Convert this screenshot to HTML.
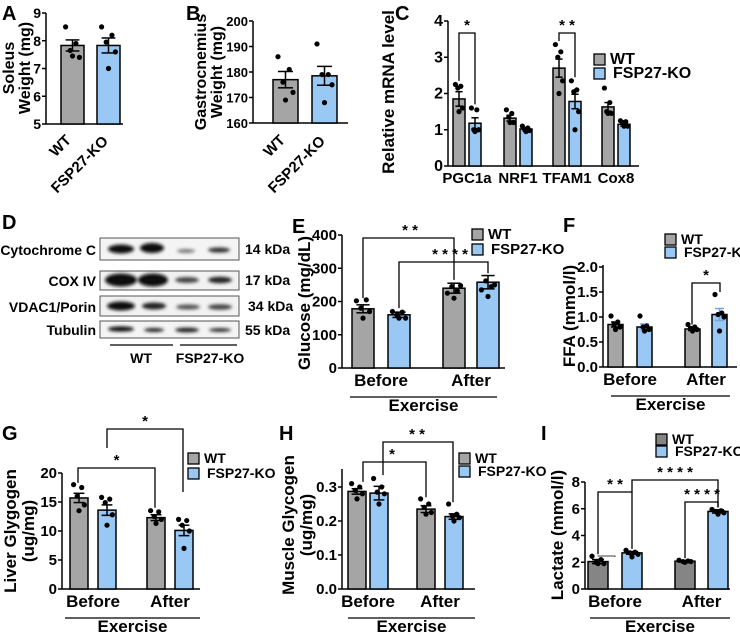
<!DOCTYPE html>
<html><head><meta charset="utf-8">
<style>
html,body{margin:0;padding:0;background:#fff;}
svg{display:block;font-family:"Liberation Sans",Arial,sans-serif;font-weight:bold;}
</style></head>
<body>
<svg id="fig" width="740" height="633" viewBox="0 0 740 633" xmlns="http://www.w3.org/2000/svg">
<defs><filter id="blur" x="-50%" y="-50%" width="200%" height="200%"><feGaussianBlur stdDeviation="1.6"/></filter></defs>
<g font-size="14">
<text x="2" y="229" font-size="20">D</text>
<text x="96" y="255" text-anchor="end">Cytochrome C</text>
<text x="96" y="286" text-anchor="end">COX IV</text>
<text x="96" y="312" text-anchor="end">VDAC1/Porin</text>
<text x="96" y="335" text-anchor="end">Tubulin</text>
<rect x="100" y="238" width="139" height="22" fill="#f4f4f4" stroke="#555"/>
<rect x="100" y="271" width="139" height="19" fill="#f2f2f2" stroke="#555"/>
<rect x="100" y="296" width="139" height="20" fill="#f2f2f2" stroke="#555"/>
<rect x="100" y="321" width="139" height="17" fill="#f4f4f4" stroke="#555"/>
<g filter="url(#blur)" fill="#111">
<ellipse cx="121" cy="249" rx="13" ry="4.5"/><ellipse cx="152" cy="248" rx="12" ry="5"/><ellipse cx="186" cy="251" rx="9" ry="2" fill="#777"/><ellipse cx="219" cy="250" rx="11" ry="2.6" fill="#333"/>
<ellipse cx="121" cy="280" rx="16" ry="6.5"/><ellipse cx="153" cy="280" rx="15" ry="6.5"/><ellipse cx="187" cy="280" rx="12" ry="3" fill="#444"/><ellipse cx="220" cy="280" rx="12" ry="3.2" fill="#222"/>
<ellipse cx="121" cy="306" rx="14" ry="4.5"/><ellipse cx="154" cy="306" rx="12" ry="3.5" fill="#222"/><ellipse cx="188" cy="307" rx="12" ry="2.6" fill="#555"/><ellipse cx="220" cy="307" rx="12" ry="2.8" fill="#444"/>
<ellipse cx="121" cy="329" rx="13" ry="2.6"/><ellipse cx="154" cy="330" rx="10" ry="2" fill="#222"/><ellipse cx="187" cy="330" rx="12" ry="2.4" fill="#222"/><ellipse cx="220" cy="330" rx="11" ry="2" fill="#333"/>
</g>
<text x="245" y="254">14 kDa</text>
<text x="245" y="285">17 kDa</text>
<text x="248" y="311">34 kDa</text>
<text x="245" y="335">55 kDa</text>
<line x1="110" y1="345" x2="173" y2="345" stroke="#000" stroke-width="1.3"/>
<line x1="180" y1="345" x2="237" y2="345" stroke="#000" stroke-width="1.3"/>
<text x="141" y="363" text-anchor="middle">WT</text>
<text x="210" y="363" text-anchor="middle">FSP27-KO</text>
</g>
</svg>
<script>
const groupsAB = ["WT","FSP27-KO"];
const soleusMeans = [7.83, 7.83];
const soleusErr = [0.2, 0.27];
const soleusDots = [[8.5,7.9,7.65,7.4,7.45],[8.5,8.2,7.95,7.6,7.0]];
const gastroMeans = [177, 178.5];
const gastroErr = [3.2, 3.7];
const gastroDots = [[186,181,176,172,169],[191,179,179,175,168]];
const genes = ["PGC1a","NRF1","TFAM1","Cox8"];
const mrnaWT = [1.85, 1.32, 2.7, 1.63];
const mrnaKO = [1.18, 1.02, 1.78, 1.15];
const mrnaErrWT = [0.2, 0.08, 0.25, 0.12];
const mrnaErrKO = [0.15, 0.04, 0.2, 0.05];
const mrnaDotsWT = [[2.25,2.2,2.15,1.6,1.5],[1.55,1.45,1.35,1.2,1.2],[3.35,3.15,3.0,2.35,2.0],[2.15,1.75,1.5,1.45,1.45]];
const mrnaDotsKO = [[1.6,1.55,1.0,1.0,0.95],[1.1,1.05,1.0,0.98,0.95],[2.35,2.1,2.05,1.5,1.0],[1.25,1.22,1.2,1.1,1.1]];
const phases = ["Before","After"];
const glucWT = [178, 240];
const glucKO = [160, 258];
const glucErr = [[12,15],[8,20]];
const glucDots = [[[202,205,180,170,150],[225,232,245,248,210]],[[170,168,160,150,150],[235,245,262,250,215]]];
const ffaWT = [0.85, 0.76];
const ffaKO = [0.8, 1.05];
const ffaErr = [[0.05,0.03],[0.06,0.12]];
const ffaDots = [[[1.02,0.9,0.85,0.8,0.75],[0.85,0.8,0.77,0.75,0.72]],[[1.02,0.82,0.8,0.75,0.72],[1.45,1.08,1.05,1.0,0.72]]];
const liverWT = [15.7, 12.3];
const liverKO = [13.6, 10.1];
const liverErr = [[0.8,0.5],[0.9,0.9]];
const liverDots = [[[18,17.5,16,14.5,13.5],[13.5,13.3,12.5,12.0,11.3]],[[15.8,15.5,14.9,12.8,11.0],[12.0,11.8,11.0,10.0,7.0]]];
const muscleWT = [0.287, 0.235];
const muscleKO = [0.282, 0.213];
const muscleErr = [[0.008,0.01],[0.02,0.008]];
const muscleDots = [[[0.31,0.3,0.29,0.28,0.265],[0.265,0.25,0.24,0.225,0.22]],[[0.325,0.3,0.285,0.28,0.25],[0.25,0.22,0.215,0.21,0.2]]];
const lactWT = [2.05, 2.08];
const lactKO = [2.7, 5.8];
const lactErr = [[0.15,0.05],[0.1,0.12]];
const lactDots = [[[2.45,2.2,2.0,1.9,1.9],[2.15,2.1,2.05,2.05,2.0]],[[2.9,2.75,2.7,2.6,2.4],[5.95,5.85,5.8,5.7,5.6]]];
const tickA = [5,6,7,8,9];
const tickB = [160,170,180,190,200];
const tickC = [0,1,2,3,4];
const tickE = [0,100,200,300,400];
const tickF = ["0.0","0.5","1.0","1.5","2.0"];
const tickG = [0,5,10,15,20];
const tickH = ["0.0","0.1","0.2","0.3"];
const tickI = [0,2,4,6,8];

const GRAY="#a5a5a5", BLUE="#99c8f4", DGRAY="#858585";
const svg=document.getElementById('fig');
const NS="http://www.w3.org/2000/svg";
function mk(tag,attrs,parent,txt){const e=document.createElementNS(NS,tag);for(const k in attrs)e.setAttribute(k,attrs[k]);if(txt!==undefined)e.textContent=txt;(parent||svg).appendChild(e);return e;}
function makeScale(vmin,vmax,y0,y1){return v=>y0-(v-vmin)/(vmax-vmin)*(y0-y1);}
function axes(g,ax,y0,yTop,xEnd,ticks,sc,fs){
  mk('line',{x1:ax,y1:y0,x2:xEnd,y2:y0,stroke:'#000','stroke-width':1.5},g);
  mk('line',{x1:ax,y1:y0,x2:ax,y2:yTop,stroke:'#000','stroke-width':1.5},g);
  ticks.forEach(t=>{const y=sc(parseFloat(t));
    mk('line',{x1:ax-4,y1:y,x2:ax,y2:y,stroke:'#000','stroke-width':1.5},g);
    const tl=mk('text',{x:ax-5,y:y+5,'text-anchor':'end','font-size':fs||15},g,String(t));
    
    
  });
}
function bar(g,x,w,val,err,dots,sc,y0,color,name,errColor){
  const y=sc(val);
  const r=mk('rect',{x:x,y:y,width:w,height:y0-y,fill:color,stroke:'#000','stroke-width':1.5},g);
  
  
  const cx=x+w/2, ec=errColor||'#000';
  mk('line',{x1:cx,y1:sc(val-err),x2:cx,y2:sc(val+err),stroke:ec,'stroke-width':1.5},g);
  mk('line',{x1:cx-w*0.3,y1:sc(val+err),x2:cx+w*0.3,y2:sc(val+err),stroke:ec,'stroke-width':1.5},g);
  mk('line',{x1:cx-w*0.3,y1:sc(val-err),x2:cx+w*0.3,y2:sc(val-err),stroke:ec,'stroke-width':1.5},g);
  const offs=[-0.3,0.15,-0.1,0.3,0];
  dots.forEach((d,i)=>{const c=mk('circle',{cx:cx+offs[i]*w,cy:sc(d),r:2.6,fill:'#000'},g);
    
    });
}
function text(g,x,y,s,fs,anchor,name,rot){
  const t=mk('text',{x:x,y:y,'font-size':fs,'text-anchor':anchor||'middle'},g,s);
  if(rot!==undefined)t.setAttribute('transform','rotate('+rot+' '+x+' '+y+')');
  
  
  return t;
}
function bracket(g,x1,y1,x2,y2,top,stars,sx){
  mk('polyline',{points:`${x1},${y1} ${x1},${top} ${x2},${top} ${x2},${y2}`,fill:'none',stroke:'#000','stroke-width':1.3},g);
  text(g,sx!==undefined?sx:(x1+x2)/2,top-3,stars,15,'middle','significance-stars');
}
function legend(g,x,y1,y2,fs,wtColor){
  const a=mk('rect',{x:x,y:y1-10,width:11,height:11,fill:wtColor||GRAY,stroke:'#000','stroke-width':1.3},g);
  
  
  const b=mk('rect',{x:x,y:y2-10,width:11,height:11,fill:BLUE,stroke:'#000','stroke-width':1.3},g);
  
  
  text(g,x+16,y1,'WT',fs,'start','legend-entry-wt');
  text(g,x+19,y2,'FSP27-KO',fs,'start','legend-entry-ko');
}
function grp(name){const g=mk('g',{});return g;}

(function(){const g=grp('panel-a-soleus');const y0=124,sc=makeScale(5,9,124,13);
 text(g,2,20,'A',20,'start','panel-label-a');
 axes(g,46,y0,13,123,tickA,sc,14);
 const xs=[61,97];
 groupsAB.forEach((n,i)=>bar(g,xs[i],23,soleusMeans[i],soleusErr[i],soleusDots[i],sc,y0,i?BLUE:GRAY,'bar-'+n.toLowerCase()));
 text(g,72,141,'WT',15,'end','x-label-wt',-45);
 text(g,109,142,'FSP27-KO',15,'end','x-label-ko',-45);
 text(g,14,68,'Soleus',16,'middle','y-axis-title',-90);
 text(g,30,68,'Weight (mg)',16,'middle','y-axis-title',-90);
})();
(function(){const g=grp('panel-b-gastrocnemius');const y0=123,sc=makeScale(160,200,123,21);
 text(g,186,20,'B',20,'start','panel-label-b');
 axes(g,253,y0,21,348,tickB,sc,13);
 const xs=[273,312];
 groupsAB.forEach((n,i)=>bar(g,xs[i],25,gastroMeans[i],gastroErr[i],gastroDots[i],sc,y0,i?BLUE:GRAY,'bar-'+n.toLowerCase()));
 text(g,286,141,'WT',15,'end','x-label-wt',-45);
 text(g,326,142,'FSP27-KO',15,'end','x-label-ko',-45);
 text(g,206,72,'Gastrocnemius',16,'middle','y-axis-title',-90);
 text(g,222,72,'Weight (mg)',16,'middle','y-axis-title',-90);
})();
(function(){const g=grp('panel-c-mrna');const y0=166,sc=makeScale(0,4,166,21);
 text(g,395,20,'C',20,'start','panel-label-c');
 axes(g,448,y0,21,639,tickC,sc,16);
 const cs=[467,518,567,616];
 genes.forEach((n,i)=>{bar(g,cs[i]-14,12,mrnaWT[i],mrnaErrWT[i],mrnaDotsWT[i],sc,y0,GRAY,'bar-wt-'+n.toLowerCase());
   bar(g,cs[i]+2,12,mrnaKO[i],mrnaErrKO[i],mrnaDotsKO[i],sc,y0,BLUE,'bar-ko-'+n.toLowerCase());
   text(g,cs[i],183,n,15,'middle','x-label-'+n.toLowerCase());});
 bracket(g,cs[0]-8,sc(2.35),cs[0]+8,sc(1.7),33,'*');
 bracket(g,cs[2]-8,sc(3.45),cs[2]+8,sc(2.45),33,'* *');
 legend(g,594,64,78,16);
 text(g,394,92,'Relative mRNA level',17,'middle','y-axis-title',-90);
})();
function phasePanel(o){const g=grp(o.name);const sc=makeScale(0,o.vmax,o.y0,o.yv);
 text(g,o.lx,o.ly,o.letter,20,'start','panel-label-'+o.letter.toLowerCase());
 axes(g,o.ax,o.y0,o.yTop,o.xEnd,o.ticks,sc,15);
 phases.forEach((p,i)=>{bar(g,o.xw[i],o.bw,o.wt[i],o.err[0][i],o.dots[0][i],sc,o.y0,o.wtColor||GRAY,'bar-wt-'+p.toLowerCase());
   bar(g,o.xk[i],o.bw,o.ko[i],o.err[1][i],o.dots[1][i],sc,o.y0,BLUE,'bar-ko-'+p.toLowerCase(),o.koErr);
   text(g,(o.xw[i]+o.xk[i]+o.bw)/2,o.y0+18,p,17,'middle','x-label-'+p.toLowerCase());});
 mk('line',{x1:o.u1,y1:o.y0+29,x2:o.u2,y2:o.y0+29,stroke:'#000','stroke-width':1.2},g);
 text(g,(o.u1+o.u2)/2,o.y0+43,'Exercise',17,'middle','x-axis-title');
 o.ylab.forEach((s,i)=>text(g,o.ylx[i],o.yly,s,17,'middle','y-axis-title',-90));
 o.extra(g,sc);
}
phasePanel({name:'panel-e-glucose',letter:'E',lx:292,ly:233,ax:342,y0:368,yv:235,yTop:235,vmax:400,ticks:tickE,xEnd:505,
 xw:[352,443],xk:[388,477],bw:22,wt:glucWT,ko:glucKO,err:glucErr,dots:glucDots,u1:350,u2:497,ylab:['Glucose (mg/dL)'],ylx:[310],yly:303,
 extra:(g,sc)=>{bracket(g,363,sc(210),454,sc(265),238,'* *',410);bracket(g,399,sc(180),488,sc(285),262,'* * * *',450);legend(g,472,239,254,15);}});
phasePanel({name:'panel-f-ffa',letter:'F',lx:563,ly:232,ax:603,y0:367,yv:267,yTop:265,vmax:2.0,ticks:tickF,xEnd:737,
 xw:[608,685],xk:[637,712],bw:15,wt:ffaWT,ko:ffaKO,err:ffaErr,dots:ffaDots,u1:611,u2:730,ylab:['FFA (mmol/l)'],ylx:[575],yly:316,koErr:'#6fa8e0',
 extra:(g,sc)=>{bracket(g,692,sc(0.85),720,sc(1.5),283,'*');legend(g,665,244,257,14);}});
phasePanel({name:'panel-g-liver-glycogen',letter:'G',lx:2,ly:440,ax:62,y0:589,yv:473,yTop:473,vmax:20,ticks:tickG,xEnd:200,
 xw:[70,147],xk:[98,175],bw:18,wt:liverWT,ko:liverKO,err:liverErr,dots:liverDots,u1:65,u2:200,ylab:['Liver Glygogen','(ug/mg)'],ylx:[16,34],yly:531,
 extra:(g,sc)=>{bracket(g,78,sc(18.3),155,sc(14),468,'*');bracket(g,107,448,183,492,429,'*');legend(g,188,463,478,14);}});
phasePanel({name:'panel-h-muscle-glycogen',letter:'H',lx:279,ly:440,ax:342,y0:589,yv:487,yTop:469,vmax:0.3,ticks:tickH,xEnd:475,
 xw:[348,417],xk:[370,445],bw:18,wt:muscleWT,ko:muscleKO,err:muscleErr,dots:muscleDots,u1:348,u2:475,ylab:['Muscle Glycogen','(ug/mg)'],ylx:[294,312],yly:525,
 extra:(g,sc)=>{bracket(g,363,sc(0.315),426,sc(0.27),462,'*',392);bracket(g,383,sc(0.335),453,sc(0.255),442,'* *',417);legend(g,459,463,476,14);}});
phasePanel({name:'panel-i-lactate',letter:'I',lx:541,ly:440,ax:585,y0:589,yv:482,yTop:482,vmax:8,ticks:tickI,xEnd:730,
 xw:[588,675],xk:[622,708],bw:20,wt:lactWT,ko:lactKO,err:lactErr,dots:lactDots,u1:590,u2:730,ylab:['Lactate (mmol/l)'],ylx:[563],yly:535,wtColor:DGRAY,
 extra:(g,sc)=>{bracket(g,598,sc(2.6),632,sc(3.0),492,'* *');bracket(g,632,492,718,sc(6.1),480,'* * * *',675);bracket(g,685,sc(2.3),718,sc(6.1),502,'* * * *',702);
  mk('polyline',{points:`598,${sc(2.45)} 598,556 615,556 615,${sc(2.4)}`,fill:'none',stroke:'#000','stroke-width':0.8},g);
  legend(g,656,444,456,14,DGRAY);}});
</script>
</body></html>
